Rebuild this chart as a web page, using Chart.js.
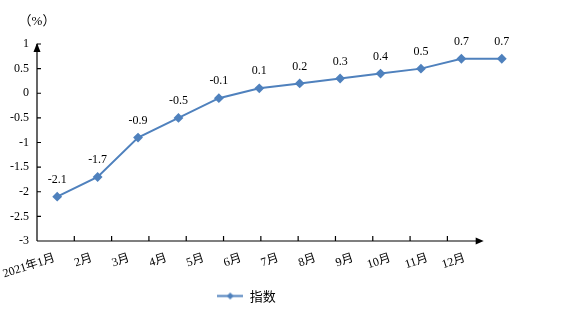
<!DOCTYPE html>
<html>
<head>
<meta charset="utf-8">
<script src="https://cdn.jsdelivr.net/npm/chart.js@4/dist/chart.umd.min.js"></script>
<style>
  html, body { margin: 0; padding: 0; background: #fff; }
</style>
</head>
<body>
<canvas id="chartIndice" width="566" height="320"></canvas>
<script>
// datos del grafico
const months = ['2021年1月', '2月', '3月', '4月', '5月', '6月', '7月', '8月', '9月', '10月', '11月', '12月'];
const axisLabels = months.concat(['']); // una categoria vacia al final, como en el original
const indexValues = [-2.1, -1.7, -0.9, -0.5, -0.1, 0.1, 0.2, 0.3, 0.4, 0.5, 0.7, 0.7];
const yMin = -3;
const yMax = 1;
const yStep = 0.5;
const seriesName = '指数';
const unitLabel = '（%）';

const lineColor = '#4f81bd';
const serifFont = '"Liberation Serif", "Times New Roman", "Noto Sans CJK SC", serif';

// icono de la leyenda: linea con rombo
function makeLegendIcon() {
  const c = document.createElement('canvas');
  c.width = 26;
  c.height = 9;
  const ctx = c.getContext('2d');
  ctx.strokeStyle = lineColor;
  ctx.lineWidth = 2;
  ctx.beginPath();
  ctx.moveTo(0, 4.5);
  ctx.lineTo(26, 4.5);
  ctx.stroke();
  ctx.fillStyle = lineColor;
  ctx.beginPath();
  ctx.moveTo(13, 1);
  ctx.lineTo(16.5, 4.5);
  ctx.lineTo(13, 8);
  ctx.lineTo(9.5, 4.5);
  ctx.closePath();
  ctx.fill();
  return c;
}
const legendIcon = makeLegendIcon();

// ejes con flechas y marcas hacia dentro
const axesPlugin = {
  id: 'axesPlugin',
  beforeDatasetsDraw(chart) {
    const ctx = chart.ctx;
    const y = chart.scales.y;
    const xl = chart.scales.xl;
    const left = chart.chartArea.left;
    const bottom = y.getPixelForValue(yMin);
    const top = y.getPixelForValue(yMax);
    // fin del eje x = limite de la categoria 12
    const xEnd = (xl.getPixelForValue(11) + xl.getPixelForValue(12)) / 2 - 1;

    ctx.save();
    ctx.strokeStyle = '#000';
    ctx.fillStyle = '#000';
    ctx.lineWidth = 1.2;
    ctx.beginPath();
    ctx.moveTo(left, bottom);
    ctx.lineTo(left, top);
    ctx.moveTo(left, bottom);
    ctx.lineTo(xEnd - 6, bottom);
    // marcas eje y
    y.ticks.forEach((t) => {
      const py = y.getPixelForValue(t.value);
      ctx.moveTo(left, py);
      ctx.lineTo(left + 4, py);
    });
    // marcas eje x
    for (let i = 1; i <= 11; i++) {
      const px = (xl.getPixelForValue(i - 1) + xl.getPixelForValue(i)) / 2;
      ctx.moveTo(px, bottom);
      ctx.lineTo(px, bottom - 5);
    }
    ctx.stroke();

    // flecha arriba
    ctx.beginPath();
    ctx.moveTo(left, top - 1);
    ctx.lineTo(left + 3.5, top + 8);
    ctx.lineTo(left - 3.5, top + 8);
    ctx.closePath();
    ctx.fill();
    // flecha derecha
    ctx.beginPath();
    ctx.moveTo(xEnd, bottom);
    ctx.lineTo(xEnd - 8, bottom - 3.5);
    ctx.lineTo(xEnd - 8, bottom + 3.5);
    ctx.closePath();
    ctx.fill();

    // unidad
    ctx.font = '13px ' + serifFont;
    ctx.textAlign = 'center';
    ctx.textBaseline = 'middle';
    ctx.fillText(unitLabel, left, 22);
    ctx.restore();
  },
  afterDatasetsDraw(chart) {
    // etiquetas de valores encima de cada punto
    const ctx = chart.ctx;
    const meta = chart.getDatasetMeta(0);
    ctx.save();
    ctx.font = '12px ' + serifFont;
    ctx.fillStyle = '#000';
    ctx.textAlign = 'center';
    ctx.textBaseline = 'middle';
    meta.data.forEach((pt, i) => {
      ctx.fillText(String(indexValues[i]), pt.x, pt.y - 17);
    });
    ctx.restore();
  }
};

const canvas = document.getElementById('chartIndice');
new Chart(canvas, {
  type: 'line',
  data: {
    labels: months,
    datasets: [
      {
        label: seriesName,
        data: indexValues,
        xAxisID: 'x',
        borderColor: lineColor,
        backgroundColor: lineColor,
        borderWidth: 2,
        pointStyle: 'rectRot',
        pointRadius: 3.5,
        pointBackgroundColor: lineColor,
        pointBorderColor: lineColor,
        tension: 0,
        fill: false,
      },
    ],
  },
  options: {
    responsive: false,
    animation: false,
    events: [],
    layout: {
      padding: { left: -29, top: 44, right: 44, bottom: 7.5 },
    },
    scales: {
      x: {
        display: false,
        offset: true,
      },
      xl: {
        type: 'category',
        labels: axisLabels,
        position: 'bottom',
        offset: true,
        grid: { display: false, drawTicks: false },
        border: { display: false },
        ticks: {
          autoSkip: false,
          minRotation: 18,
          maxRotation: 18,
          padding: 10,
          labelOffset: -1,
          color: '#000',
          font: { family: serifFont, size: 12 },
        },
        afterFit: (scale) => {
          scale.height = 38.5;
          // que las etiquetas giradas no empujen el area del grafico
          scale.paddingLeft = 0;
          scale.paddingRight = 0;
        },
      },
      y: {
        min: yMin,
        max: yMax,
        grid: { display: false, drawTicks: false },
        border: { display: false },
        ticks: {
          stepSize: yStep,
          padding: 8,
          color: '#000',
          font: { family: serifFont, size: 12 },
          callback: (v) => String(v),
        },
        afterFit: (scale) => { scale.width = 66; },
      },
    },
    plugins: {
      legend: {
        position: 'bottom',
        labels: {
          usePointStyle: true,
          pointStyleWidth: 26,
          padding: 10,
          color: '#000',
          font: { family: '"Noto Sans CJK SC", sans-serif', size: 13 },
          generateLabels(chart) {
            const items = Chart.defaults.plugins.legend.labels.generateLabels(chart);
            items.forEach((it) => { it.pointStyle = legendIcon; });
            return items;
          },
        },
      },
      tooltip: { enabled: false },
    },
  },
  plugins: [axesPlugin],
});
</script>
</body>
</html>
